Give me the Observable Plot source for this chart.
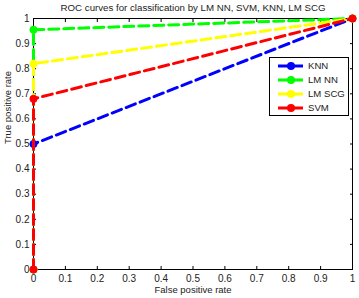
<!DOCTYPE html>
<html><head><meta charset="utf-8">
<script src="https://cdn.jsdelivr.net/npm/d3@7"></script>
<script src="https://cdn.jsdelivr.net/npm/@observablehq/plot@0.6"></script>
<style>
body{margin:0;background:#fff;}
#wrap{position:relative;width:359px;height:298px;font-family:"Liberation Sans",Arial,sans-serif;}
#legend{position:absolute;left:269px;top:57px;width:78px;height:57px;border:1px solid #000;background:#fff;box-sizing:content-box;}
.item{position:absolute;left:0;height:14px;width:78px;font-size:9.6px;white-space:nowrap;color:#222;}
.item svg{position:absolute;left:0;top:0;}
.item span{position:absolute;left:38px;top:0;line-height:14px;white-space:nowrap;}
</style></head><body><div id="wrap"></div>
<script>
const series = ["KNN", "LM NN", "LM SCG", "SVM"];
const colors = ["#0000ff", "#00ff00", "#ffff00", "#ff0000"];
const fpr = [0, 0, 1];
const tprKNN = [0, 0.5, 1];
const tprLMNN = [0, 0.955, 1];
const tprLMSCG = [0, 0.82, 1];
const tprSVM = [0, 0.68, 1];
const tickValues = [0, 0.1, 0.2, 0.3, 0.4, 0.5, 0.6, 0.7, 0.8, 0.9, 1];
const tickLabels = ["0", "0.1", "0.2", "0.3", "0.4", "0.5", "0.6", "0.7", "0.8", "0.9", "1"];
const title = "ROC curves for classification by LM NN, SVM, KNN, LM SCG";
const xLabel = "False positive rate";
const yLabel = "True positive rate";

const allTpr = [tprKNN, tprLMNN, tprLMSCG, tprSVM];
const fmt = d => tickLabels[tickValues.indexOf(d)];
const dataMarks = [];
allTpr.forEach((tpr, s) => {
  dataMarks.push(Plot.line(tpr, {x: (d, i) => fpr[i], y: d => d, stroke: colors[s], strokeWidth: 3, strokeDasharray: "10,5"}));
  dataMarks.push(Plot.dot(tpr, {x: (d, i) => fpr[i], y: d => d, r: 3.6, fill: colors[s], stroke: colors[s], strokeWidth: 1}));
});

const chart = Plot.plot({
  width: 359, height: 298,
  marginLeft: 33, marginRight: 7, marginTop: 18, marginBottom: 29,
  style: {fontFamily: "Liberation Sans, Arial, sans-serif", fontSize: "10px", background: "#fff", color: "#000"},
  x: {domain: [0, 1]},
  y: {domain: [0, 1]},
  marks: [
    Plot.frame({stroke: "#000"}),
    Plot.axisX(tickValues, {anchor: "bottom", tickSize: -3, tickPadding: 8, tickFormat: fmt, label: null, fill: "#222"}),
    Plot.axisX(tickValues, {anchor: "top", tickSize: -3, tickFormat: () => "", label: null}),
    Plot.axisY(tickValues, {anchor: "left", tickSize: -3, tickPadding: 7, tickFormat: fmt, label: null, fill: "#222"}),
    Plot.axisY(tickValues, {anchor: "right", tickSize: -3, tickFormat: () => "", label: null}),
    ...dataMarks,
    Plot.text([title], {frameAnchor: "top", dy: -11, lineAnchor: "middle", fontSize: 9.7, fill: "#222"}),
    Plot.text([xLabel], {frameAnchor: "bottom", dy: 20, lineAnchor: "middle", fontSize: 9.5, fill: "#222"}),
    Plot.text([yLabel], {frameAnchor: "left", dx: -26, rotate: -90, lineAnchor: "middle", fontSize: 9.5, fill: "#222"})
  ]
});
const wrap = document.getElementById("wrap");
wrap.appendChild(chart);

const legend = document.createElement("div");
legend.id = "legend";
series.forEach((name, s) => {
  const item = document.createElement("div");
  item.className = "item";
  item.style.top = (1 + 14 * s) + "px";
  item.innerHTML = `<svg width="38" height="14"><line x1="8" y1="7" x2="35" y2="7" stroke="${colors[s]}" stroke-width="3" stroke-dasharray="10,5"/><circle cx="21" cy="7" r="4" fill="${colors[s]}"/></svg><span>${name}</span>`;
  legend.appendChild(item);
});
wrap.appendChild(legend);
</script>
</body></html>
